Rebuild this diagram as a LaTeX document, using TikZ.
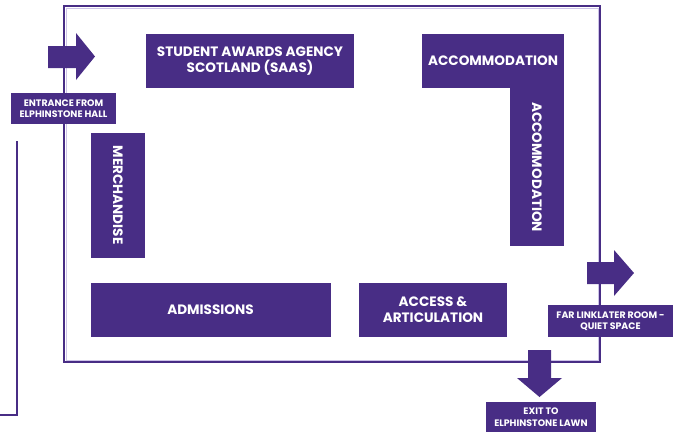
\documentclass[tikz,border=0pt]{standalone}
\usepackage{fontspec}
\setmainfont{Poppins}
\usetikzlibrary{positioning}
\definecolor{uvpurple}{RGB}{72,45,133}
\definecolor{uvlilac}{RGB}{205,195,232}

\begin{document}
\begin{tikzpicture}[x=1pt,y=-1pt,
    zone/.style={fill=uvpurple,text=white,font=\bfseries\fontsize{13.6}{16}\selectfont,
      align=center,inner sep=0pt},
    sign/.style={fill=uvpurple,text=white,font=\bfseries\fontsize{9.4}{11.5}\selectfont,
      align=center,inner sep=0pt},
    wall/.style={draw=uvpurple,line width=2pt},
    blockarrow/.style={fill=uvpurple}]
  \useasboundingbox (0,0) rectangle (678,432);

  % walls of the room
  \draw[uvlilac,line width=1pt] (66,8) rectangle (598,360);
  \draw[wall] (64,6) rectangle (600,362);
  \draw[wall] (17,141) -- (17,415) -- (0,415);

  % stands
  \node[zone,minimum width=208,minimum height=54](saas) at (250,61)
    {STUDENT AWARDS AGENCY\\SCOTLAND (SAAS)};
  \node[zone,minimum width=142,minimum height=54](accomtop) at (493,61)
    {ACCOMMODATION};
  \node[zone,rotate=-90,minimum width=158,minimum height=54](accomside) at (537,167)
    {ACCOMMODATION};
  \node[zone,rotate=-90,minimum width=125,minimum height=54](merch) at (118,195)
    {MERCHANDISE};
  \node[zone,minimum width=240,minimum height=54](admissions) at (210.5,310)
    {ADMISSIONS};
  \node[zone,minimum width=148,minimum height=54](access) at (433,310)
    {ACCESS \&\\ARTICULATION};

  % ways in and out
  \fill[blockarrow] (48,46) -- (76,46) -- (76,33) -- (95,56.5) -- (76,80) -- (76,68) -- (48,68) -- cycle;
  \node[sign,minimum width=105,minimum height=31](entrance) at (63.5,108.5)
    {ENTRANCE FROM\\ELPHINSTONE HALL};
  \fill[blockarrow] (587,262) -- (614,262) -- (614,250) -- (634,273) -- (614,296) -- (614,284) -- (587,284) -- cycle;
  \node[sign,minimum width=125,minimum height=32](quiet) at (610.5,321)
    {FAR LINKLATER ROOM -\\QUIET SPACE};
  \fill[blockarrow] (528,350) -- (551,350) -- (551,378) -- (562,378) -- (539.5,397) -- (517,378) -- (528,378) -- cycle;
  \node[sign,minimum width=110,minimum height=30](exit) at (541,417)
    {EXIT TO\\ELPHINSTONE LAWN};
\end{tikzpicture}
\end{document}
